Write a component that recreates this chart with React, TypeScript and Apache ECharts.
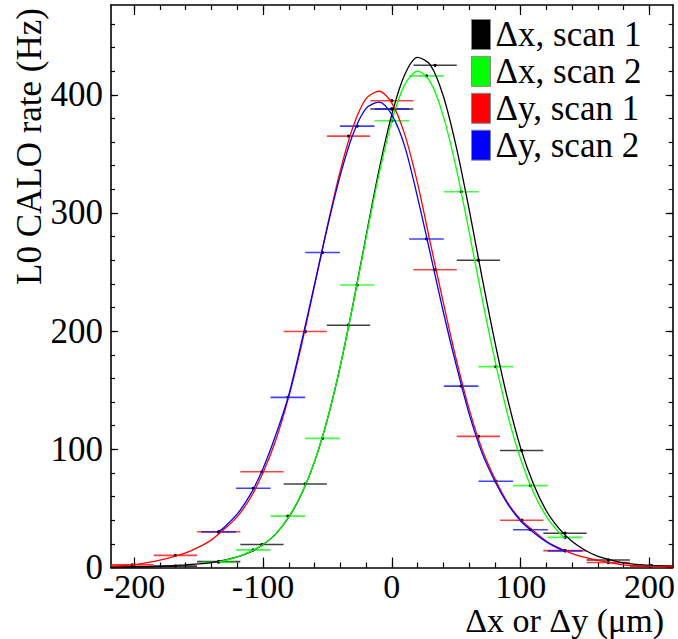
import React, { useEffect, useRef } from "react";
import * as echarts from "echarts";

// ---- data points (scan positions in µm, rates in Hz) ----
const scan1X = [-201.6, -168, -134.4, -100.8, -67.2, -33.6, 0, 33.6, 67.2, 100.8, 134.4, 168, 201.6];
const scan2X = [-134.5, -107.6, -80.7, -53.8, -26.9, 0, 26.9, 53.8, 80.7, 107.6, 134.5];
const dx1Rate = [0.5, 1.2, 5, 19.4, 70.7, 205, 388, 425, 260, 99, 29, 6.4, 1.5];
const dy1Rate = [2.2, 10.3, 30.2, 81, 199.7, 365, 395, 252, 111, 40, 14.3, 4.2, 1.2];
const dx2Rate = [4.5, 14.9, 43.5, 109.3, 239, 378, 416, 318, 170, 69.3, 25.5];
const dy2Rate = [30, 67, 144, 266.5, 373.5, 388, 278, 153.5, 73, 32, 14];
const scan1HalfStep = 16.8;
const scan2HalfStep = 13.45;

// ---- fitted curves ----
const fit1X = [-218, -210, -200, -190, -180, -170, -160, -150, -140, -130, -120, -110, -100, -90, -80, -70, -60, -50, -40, -30, -20, -10, 0, 10, 20, 30, 40, 50, 60, 70, 80, 90, 100, 110, 120, 130, 140, 150, 160, 170, 180, 190, 200, 210, 218];
const fitDx1 = [0.2, 0.3, 0.45, 0.7, 1.0, 1.5, 2.3, 3.0, 4.2, 6.2, 9.0, 13, 19.4, 28.5, 42.6, 62.4, 89.6, 125.6, 170.7, 223.6, 280.5, 336, 383.4, 416.9, 431.6, 425.2, 398.8, 356, 303, 245.6, 190.8, 142, 101, 70.4, 47.8, 32.7, 21.9, 14.6, 9.4, 6.4, 3.9, 2.6, 1.7, 1.1, 0.8];
const fitDy1 = [1.1, 1.5, 2.5, 4.2, 6.3, 9.0, 12.3, 17.2, 23.4, 32.5, 43.1, 58.4, 80.1, 108.1, 144.6, 188.7, 238.5, 289.2, 335.9, 373.2, 396.7, 403, 393, 366.5, 325, 274, 224, 176, 134, 100, 75, 54.7, 40.5, 31, 22.2, 16.4, 11.8, 8.6, 6, 4, 2.3, 1.5, 1.0, 0.7, 0.5];
const fit2X = [-134.4, -130, -120, -110, -100, -90, -80, -70, -60, -50, -40, -30, -20, -10, 0, 10, 20, 30, 40, 50, 60, 70, 80, 90, 100, 110, 120, 130, 134.4];
const fitDx2 = [5.0, 5.9, 9.0, 13.4, 19.5, 28.7, 42.9, 62.9, 89.7, 125.8, 170.7, 223, 279, 332.6, 378, 408.6, 420, 410.7, 381.8, 337.7, 284, 228, 175.4, 129, 91.6, 63.4, 43.1, 29.3, 25];
const fitDy2 = [30.3, 34.1, 45.3, 61.4, 83.7, 112.5, 146, 191.3, 239.6, 288, 332, 367, 388.5, 393.8, 383, 356.4, 313, 265, 216, 171, 130, 97, 73, 53.6, 39.4, 29.7, 21.7, 15.8, 14];

// ---- axis ticks ----
const xMajorTicks = [-200, -100, 0, 100, 200];
const xMinorTicks = [-200, -180, -160, -140, -120, -100, -80, -60, -40, -20, 0, 20, 40, 60, 80, 100, 120, 140, 160, 180, 200];
const yMajorTicks = [0, 100, 200, 300, 400];
const yMinorTicks = [0, 20, 40, 60, 80, 100, 120, 140, 160, 180, 200, 220, 240, 260, 280, 300, 320, 340, 360, 380, 400, 420, 440, 460];

const seriesNames = ["\u0394x, scan 1", "\u0394x, scan 2", "\u0394y, scan 1", "\u0394y, scan 2"];
const seriesColors = ["#000000", "#00ff00", "#ff0000", "#0000ff"];

const FONT = "Liberation Serif, Times New Roman, Times, DejaVu Serif, serif";

function errorSeries(name: string, color: string, xs: number[], ys: number[], hw: number) {
  return {
    type: "custom",
    name,
    clip: true,
    itemStyle: { color },
    data: xs.map((x, i) => [x, ys[i]]),
    renderItem: (_params: any, api: any) => {
      const x = api.value(0);
      const y = api.value(1);
      const a = api.coord([x - hw, y]);
      const b = api.coord([x + hw, y]);
      const c = api.coord([x, y]);
      return {
        type: "group",
        children: [
          {
            type: "line",
            shape: { x1: a[0], y1: a[1], x2: b[0], y2: b[1] },
            style: { stroke: color, lineWidth: 1.6, opacity: 0.75 },
          },
          {
            type: "circle",
            shape: { cx: c[0], cy: c[1], r: 1.6 },
            style: { fill: "#000" },
          },
        ],
      };
    },
  };
}

function fitSeries(name: string, color: string, xs: number[], ys: number[]) {
  return {
    type: "line",
    name,
    data: xs.map((x, i) => [x, ys[i]]),
    showSymbol: false,
    symbol: "none",
    smooth: 0.3,
    lineStyle: { color, width: 1.3 },
    silent: true,
    z: 3,
  };
}

function xAxisDef(position: string, ticks: number[], len: number, showLabel: boolean, showLine: boolean) {
  return {
    type: "value",
    min: -218,
    max: 218,
    position,
    axisLine: { show: showLine, onZero: false, lineStyle: { color: "#000", width: 1.6 } },
    axisTick: { show: true, inside: true, length: len, customValues: ticks, lineStyle: { color: "#000", width: 1.2 } },
    axisLabel: showLabel
      ? { show: true, customValues: xMajorTicks, fontSize: 34, fontFamily: FONT, color: "#000", margin: 1.5 }
      : { show: false },
    splitLine: { show: false },
  };
}

function yAxisDef(position: string, ticks: number[], len: number, showLabel: boolean, showLine: boolean) {
  return {
    type: "value",
    min: 0,
    max: 476,
    position,
    axisLine: { show: showLine, onZero: false, lineStyle: { color: "#000", width: 1.6 } },
    axisTick: { show: true, inside: true, length: len, customValues: ticks, lineStyle: { color: "#000", width: 1.2 } },
    axisLabel: showLabel
      ? { show: true, customValues: yMajorTicks, fontSize: 35, fontFamily: FONT, color: "#000", margin: 8 }
      : { show: false },
    splitLine: { show: false },
  };
}

export default function App() {
  const ref = useRef<HTMLDivElement>(null);

  useEffect(() => {
    if (!ref.current) return;
    const chart = echarts.init(ref.current, undefined, { renderer: "svg" });
    const option = {
      animation: false,
      backgroundColor: "#ffffff",
      textStyle: { fontFamily: FONT },
      grid: { left: 111, right: 5, top: 5, bottom: 71.5, containLabel: false },
      xAxis: [
        xAxisDef("bottom", xMajorTicks, 10, true, true),
        xAxisDef("bottom", xMinorTicks, 5, false, false),
        xAxisDef("top", xMajorTicks, 10, false, true),
        xAxisDef("top", xMinorTicks, 5, false, false),
      ],
      yAxis: [
        yAxisDef("left", yMajorTicks, 7, true, true),
        yAxisDef("left", yMinorTicks, 4, false, false),
        yAxisDef("right", yMajorTicks, 7, false, true),
        yAxisDef("right", yMinorTicks, 4, false, false),
      ],
      legend: {
        orient: "vertical",
        left: 466,
        top: 12,
        padding: 5,
        itemWidth: 19,
        itemHeight: 30,
        itemGap: 1.9,
        selectedMode: false,
        icon: "rect",
        textStyle: { fontSize: 35, fontFamily: FONT, color: "#000" },
        data: seriesNames.map((n, i) => ({
          name: n,
          icon: "rect",
          itemStyle: { color: seriesColors[i], borderColor: "#888", borderWidth: 1 },
        })),
      },
      graphic: [
        {
          type: "text",
          x: 29,
          y: 8,
          rotation: Math.PI / 2,
          style: {
            text: "L0 CALO rate (Hz)",
            fill: "#000",
            fontSize: 35,
            fontFamily: FONT,
            align: "right",
            textAlign: "right",
            verticalAlign: "middle",
            textVerticalAlign: "middle",
          },
        },
        {
          type: "text",
          x: 664,
          y: 620.5,
          style: {
            text: "\u0394x or \u0394y (\u03bcm)",
            fill: "#000",
            fontSize: 34,
            fontFamily: FONT,
            align: "right",
            textAlign: "right",
            verticalAlign: "middle",
            textVerticalAlign: "middle",
          },
        },
      ],
      series: [
        errorSeries(seriesNames[0], seriesColors[0], scan1X, dx1Rate, scan1HalfStep),
        errorSeries(seriesNames[1], seriesColors[1], scan2X, dx2Rate, scan2HalfStep),
        errorSeries(seriesNames[2], seriesColors[2], scan1X, dy1Rate, scan1HalfStep),
        errorSeries(seriesNames[3], seriesColors[3], scan2X, dy2Rate, scan2HalfStep),
        fitSeries("fit dx1", seriesColors[0], fit1X, fitDx1),
        fitSeries("fit dx2", seriesColors[1], fit2X, fitDx2),
        fitSeries("fit dy1", seriesColors[2], fit1X, fitDy1),
        fitSeries("fit dy2", seriesColors[3], fit2X, fitDy2),
      ],
    };
    chart.setOption(option as any);
    return () => chart.dispose();
  }, []);

  return (
    <div
      ref={ref}
      style={{ position: "fixed", left: 0, top: 0, width: 678, height: 639, background: "#fff" }}
    />
  );
}
